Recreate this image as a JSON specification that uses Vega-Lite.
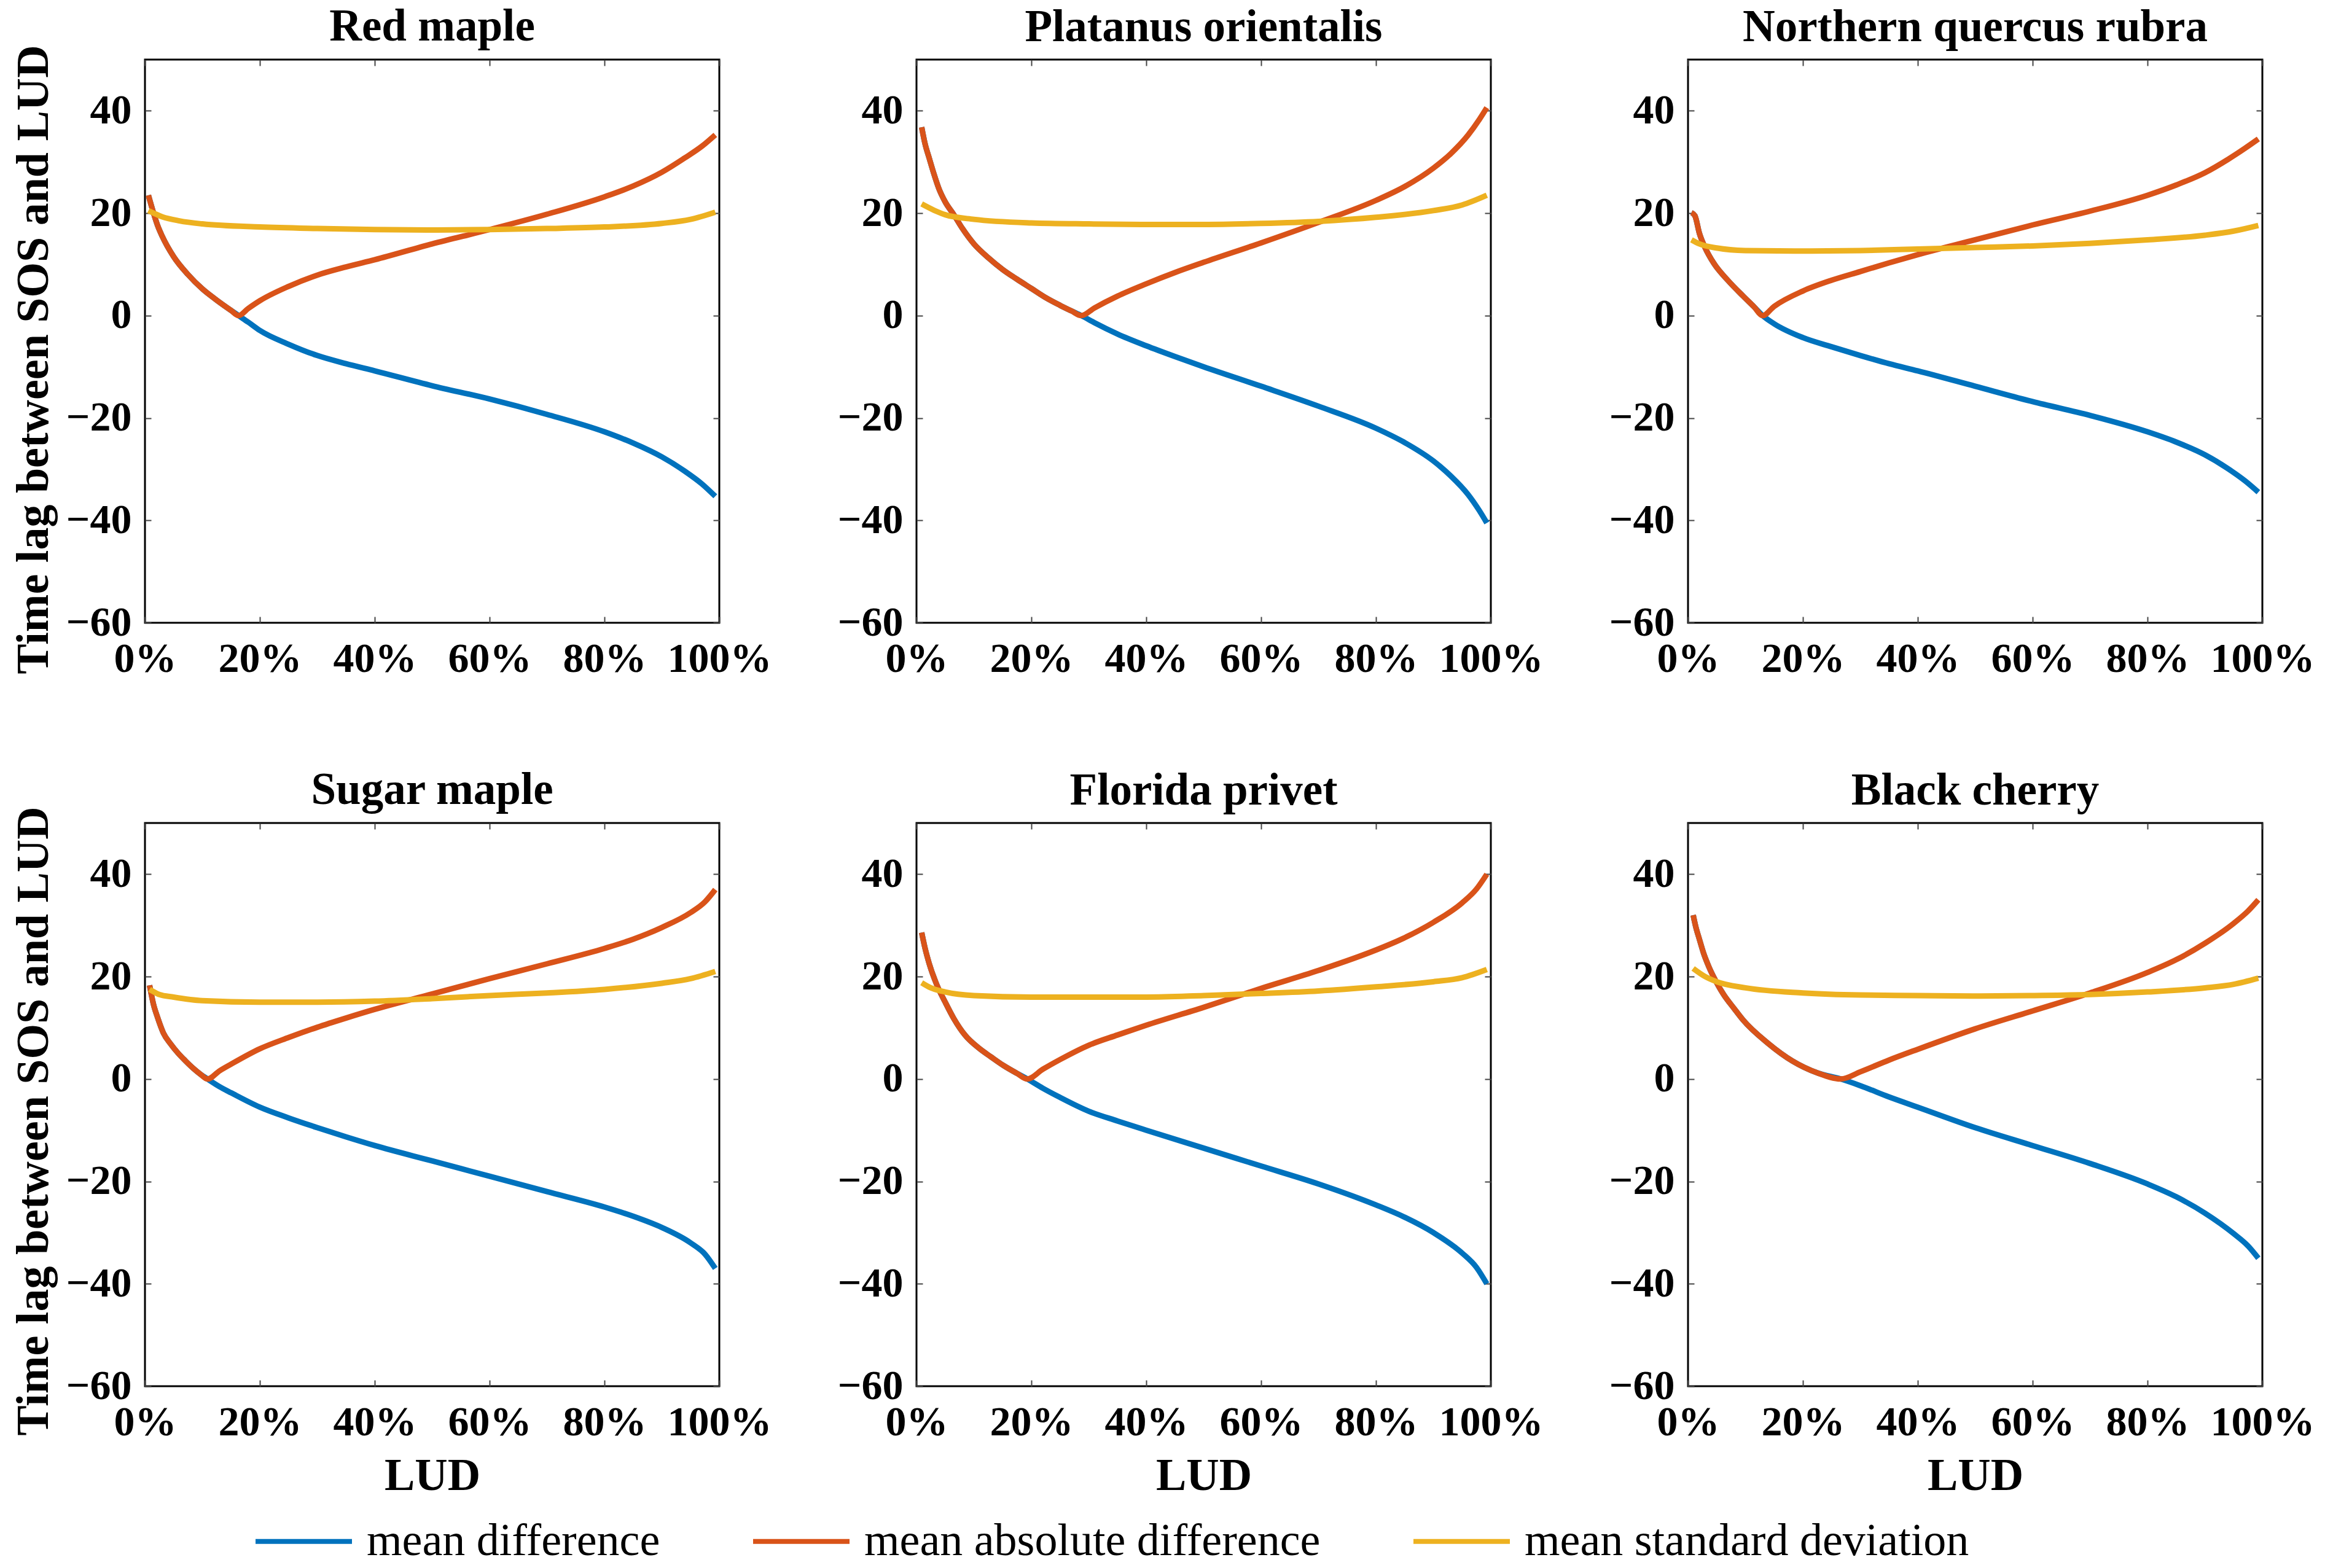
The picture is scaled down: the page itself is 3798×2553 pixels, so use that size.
{
  "$schema": "https://vega.github.io/schema/vega-lite/v6.json",
  "background": "white",
  "padding": {"left": 16, "top": 6, "right": 10, "bottom": 10},
  "datasets": {
    "trees": [
      {"s": "Red maple", "x": 0.6, "md": 23.5, "mad": 23.5, "msd": 20.5},
      {"s": "Red maple", "x": 1.5, "md": 20, "mad": 20},
      {"s": "Red maple", "x": 2.2, "md": 17.6, "mad": 17.6},
      {"s": "Red maple", "x": 3, "md": 15.5, "mad": 15.5, "msd": 19.3},
      {"s": "Red maple", "x": 5, "md": 11.5, "mad": 11.5},
      {"s": "Red maple", "x": 6, "msd": 18.5},
      {"s": "Red maple", "x": 7.5, "md": 8, "mad": 8},
      {"s": "Red maple", "x": 10, "md": 5.2, "mad": 5.2, "msd": 17.9},
      {"s": "Red maple", "x": 12.5, "md": 3, "mad": 3},
      {"s": "Red maple", "x": 15, "md": 1, "mad": 1},
      {"s": "Red maple", "x": 16.3, "md": 0, "mad": 0},
      {"s": "Red maple", "x": 18, "md": -1.3, "mad": 1.4},
      {"s": "Red maple", "x": 20, "md": -2.9, "mad": 2.9, "msd": 17.3},
      {"s": "Red maple", "x": 25, "md": -5.6, "mad": 5.7},
      {"s": "Red maple", "x": 30, "md": -7.8, "mad": 7.9, "msd": 17.0},
      {"s": "Red maple", "x": 35, "md": -9.4, "mad": 9.5},
      {"s": "Red maple", "x": 40, "md": -10.8, "mad": 10.9, "msd": 16.8},
      {"s": "Red maple", "x": 50, "md": -13.7, "mad": 14.0, "msd": 16.7},
      {"s": "Red maple", "x": 60, "md": -16.3, "mad": 16.8, "msd": 16.8},
      {"s": "Red maple", "x": 70, "md": -19.3, "mad": 19.8, "msd": 17.0},
      {"s": "Red maple", "x": 80, "md": -22.7, "mad": 23.2, "msd": 17.3},
      {"s": "Red maple", "x": 85, "md": -24.9, "mad": 25.3},
      {"s": "Red maple", "x": 90, "md": -27.6, "mad": 28.0, "msd": 18.0},
      {"s": "Red maple", "x": 94, "md": -30.4, "mad": 30.8},
      {"s": "Red maple", "x": 95, "msd": 18.8},
      {"s": "Red maple", "x": 97, "md": -32.9, "mad": 33.1},
      {"s": "Red maple", "x": 99.3, "md": -35.3, "mad": 35.3, "msd": 20.2},

      {"s": "Platanus orientalis", "x": 0.9, "md": 36.8, "mad": 36.8, "msd": 21.8},
      {"s": "Platanus orientalis", "x": 1.5, "md": 33.5, "mad": 33.5},
      {"s": "Platanus orientalis", "x": 2.2, "md": 30.8, "mad": 30.8},
      {"s": "Platanus orientalis", "x": 3, "md": 27.8, "mad": 27.8, "msd": 20.6},
      {"s": "Platanus orientalis", "x": 3.9, "md": 24.8, "mad": 24.8},
      {"s": "Platanus orientalis", "x": 5, "md": 22.2, "mad": 22.2, "msd": 19.7},
      {"s": "Platanus orientalis", "x": 6.5, "md": 19.7, "mad": 19.7},
      {"s": "Platanus orientalis", "x": 8, "md": 17.0, "mad": 17.0},
      {"s": "Platanus orientalis", "x": 10, "md": 14.0, "mad": 14.0, "msd": 18.8},
      {"s": "Platanus orientalis", "x": 12.5, "md": 11.3, "mad": 11.3},
      {"s": "Platanus orientalis", "x": 15, "md": 9.0, "mad": 9.0},
      {"s": "Platanus orientalis", "x": 17.5, "md": 7.1, "mad": 7.1},
      {"s": "Platanus orientalis", "x": 20, "md": 5.3, "mad": 5.3, "msd": 18.1},
      {"s": "Platanus orientalis", "x": 22.5, "md": 3.5, "mad": 3.5},
      {"s": "Platanus orientalis", "x": 25, "md": 2.0, "mad": 2.0},
      {"s": "Platanus orientalis", "x": 27, "md": 0.9, "mad": 0.9},
      {"s": "Platanus orientalis", "x": 28.7, "md": 0, "mad": 0},
      {"s": "Platanus orientalis", "x": 30, "msd": 17.9},
      {"s": "Platanus orientalis", "x": 31, "md": -1.4, "mad": 1.5},
      {"s": "Platanus orientalis", "x": 35, "md": -3.6, "mad": 3.8},
      {"s": "Platanus orientalis", "x": 40, "md": -5.9, "mad": 6.2, "msd": 17.8},
      {"s": "Platanus orientalis", "x": 45, "md": -8.0, "mad": 8.4},
      {"s": "Platanus orientalis", "x": 50, "md": -10.0, "mad": 10.4, "msd": 17.8},
      {"s": "Platanus orientalis", "x": 60, "md": -13.8, "mad": 14.2, "msd": 18.0},
      {"s": "Platanus orientalis", "x": 70, "md": -17.7, "mad": 18.2, "msd": 18.4},
      {"s": "Platanus orientalis", "x": 80, "md": -22.0, "mad": 22.5, "msd": 19.2},
      {"s": "Platanus orientalis", "x": 85, "md": -24.8, "mad": 25.2},
      {"s": "Platanus orientalis", "x": 90, "md": -28.4, "mad": 28.8, "msd": 20.5},
      {"s": "Platanus orientalis", "x": 93, "md": -31.3, "mad": 31.6},
      {"s": "Platanus orientalis", "x": 95, "msd": 21.6},
      {"s": "Platanus orientalis", "x": 96, "md": -34.9, "mad": 35.2},
      {"s": "Platanus orientalis", "x": 98, "md": -38.1, "mad": 38.3},
      {"s": "Platanus orientalis", "x": 99.3, "md": -40.5, "mad": 40.6, "msd": 23.5},

      {"s": "Northern quercus rubra", "x": 0.6, "md": 20.1, "mad": 20.1, "msd": 14.8},
      {"s": "Northern quercus rubra", "x": 1.2, "md": 19.5, "mad": 19.5},
      {"s": "Northern quercus rubra", "x": 2, "md": 16.0, "mad": 16.0, "msd": 14.0},
      {"s": "Northern quercus rubra", "x": 3, "md": 13.2, "mad": 13.2},
      {"s": "Northern quercus rubra", "x": 4.5, "md": 10.2, "mad": 10.2},
      {"s": "Northern quercus rubra", "x": 5, "msd": 13.2},
      {"s": "Northern quercus rubra", "x": 7, "md": 6.8, "mad": 6.8},
      {"s": "Northern quercus rubra", "x": 9.6, "md": 3.8, "mad": 3.8},
      {"s": "Northern quercus rubra", "x": 10, "msd": 12.7},
      {"s": "Northern quercus rubra", "x": 11.5, "md": 1.7, "mad": 1.7},
      {"s": "Northern quercus rubra", "x": 13, "md": 0, "mad": 0},
      {"s": "Northern quercus rubra", "x": 15, "md": -1.6, "mad": 1.8},
      {"s": "Northern quercus rubra", "x": 20, "md": -4.3, "mad": 4.8, "msd": 12.6},
      {"s": "Northern quercus rubra", "x": 25, "md": -6.1, "mad": 6.9},
      {"s": "Northern quercus rubra", "x": 30, "md": -7.8, "mad": 8.6, "msd": 12.7},
      {"s": "Northern quercus rubra", "x": 35, "md": -9.4, "mad": 10.3},
      {"s": "Northern quercus rubra", "x": 40, "md": -10.8, "mad": 11.9, "msd": 13.0},
      {"s": "Northern quercus rubra", "x": 50, "md": -13.8, "mad": 14.8, "msd": 13.3},
      {"s": "Northern quercus rubra", "x": 60, "md": -16.8, "mad": 17.7, "msd": 13.6},
      {"s": "Northern quercus rubra", "x": 70, "md": -19.5, "mad": 20.4, "msd": 14.1},
      {"s": "Northern quercus rubra", "x": 80, "md": -22.7, "mad": 23.5, "msd": 14.8},
      {"s": "Northern quercus rubra", "x": 85, "md": -24.7, "mad": 25.5},
      {"s": "Northern quercus rubra", "x": 90, "md": -27.2, "mad": 27.9, "msd": 15.7},
      {"s": "Northern quercus rubra", "x": 94, "md": -29.9, "mad": 30.5},
      {"s": "Northern quercus rubra", "x": 95, "msd": 16.5},
      {"s": "Northern quercus rubra", "x": 97, "md": -32.3, "mad": 32.7},
      {"s": "Northern quercus rubra", "x": 99.3, "md": -34.5, "mad": 34.5, "msd": 17.6},

      {"s": "Sugar maple", "x": 0.8, "md": 18.3, "mad": 18.3, "msd": 17.5},
      {"s": "Sugar maple", "x": 1.5, "md": 14.5, "mad": 14.5},
      {"s": "Sugar maple", "x": 2.2, "md": 12.0, "mad": 12.0},
      {"s": "Sugar maple", "x": 2.5, "msd": 16.5},
      {"s": "Sugar maple", "x": 3.2, "md": 9.0, "mad": 9.0},
      {"s": "Sugar maple", "x": 4.5, "md": 6.8, "mad": 6.8},
      {"s": "Sugar maple", "x": 5, "msd": 16.0},
      {"s": "Sugar maple", "x": 5.8, "md": 5.0, "mad": 5.0},
      {"s": "Sugar maple", "x": 7, "md": 3.6, "mad": 3.6},
      {"s": "Sugar maple", "x": 8.4, "md": 2.1, "mad": 2.1},
      {"s": "Sugar maple", "x": 9.7, "md": 0.9, "mad": 0.9},
      {"s": "Sugar maple", "x": 10, "msd": 15.3},
      {"s": "Sugar maple", "x": 10.9, "md": 0, "mad": 0},
      {"s": "Sugar maple", "x": 13, "md": -1.5, "mad": 1.6},
      {"s": "Sugar maple", "x": 15, "md": -2.7, "mad": 2.9},
      {"s": "Sugar maple", "x": 20, "md": -5.5, "mad": 5.9, "msd": 15.0},
      {"s": "Sugar maple", "x": 25, "md": -7.6, "mad": 8.1},
      {"s": "Sugar maple", "x": 30, "md": -9.5, "mad": 10.1, "msd": 15.0},
      {"s": "Sugar maple", "x": 35, "md": -11.3, "mad": 11.9},
      {"s": "Sugar maple", "x": 40, "md": -13.0, "mad": 13.6, "msd": 15.2},
      {"s": "Sugar maple", "x": 50, "md": -16.0, "mad": 16.6, "msd": 15.7},
      {"s": "Sugar maple", "x": 60, "md": -19.0, "mad": 19.6, "msd": 16.3},
      {"s": "Sugar maple", "x": 70, "md": -22.0, "mad": 22.5, "msd": 16.8},
      {"s": "Sugar maple", "x": 80, "md": -25.0, "mad": 25.5, "msd": 17.5},
      {"s": "Sugar maple", "x": 85, "md": -26.8, "mad": 27.3},
      {"s": "Sugar maple", "x": 90, "md": -29.0, "mad": 29.6, "msd": 18.7},
      {"s": "Sugar maple", "x": 95, "md": -32.0, "mad": 32.5, "msd": 19.6},
      {"s": "Sugar maple", "x": 97.5, "md": -34.2, "mad": 34.6},
      {"s": "Sugar maple", "x": 99.3, "md": -37.0, "mad": 37.0, "msd": 21.0},

      {"s": "Florida privet", "x": 0.9, "md": 28.6, "mad": 28.6, "msd": 18.8},
      {"s": "Florida privet", "x": 1.5, "md": 25.5, "mad": 25.5},
      {"s": "Florida privet", "x": 2.2, "md": 22.6, "mad": 22.6},
      {"s": "Florida privet", "x": 2.5, "msd": 17.8},
      {"s": "Florida privet", "x": 3.5, "md": 18.5, "mad": 18.5},
      {"s": "Florida privet", "x": 5, "md": 15.0, "mad": 15.0, "msd": 17.0},
      {"s": "Florida privet", "x": 6.5, "md": 11.8, "mad": 11.8},
      {"s": "Florida privet", "x": 8.5, "md": 8.5, "mad": 8.5},
      {"s": "Florida privet", "x": 10, "msd": 16.3},
      {"s": "Florida privet", "x": 10.9, "md": 6.0, "mad": 6.0},
      {"s": "Florida privet", "x": 13, "md": 4.3, "mad": 4.3},
      {"s": "Florida privet", "x": 15.2, "md": 2.6, "mad": 2.6},
      {"s": "Florida privet", "x": 17.5, "md": 1.1, "mad": 1.1},
      {"s": "Florida privet", "x": 19.3, "md": 0, "mad": 0},
      {"s": "Florida privet", "x": 20, "msd": 16.0},
      {"s": "Florida privet", "x": 22, "md": -1.8, "mad": 1.9},
      {"s": "Florida privet", "x": 25, "md": -3.6, "mad": 3.8},
      {"s": "Florida privet", "x": 30, "md": -6.3, "mad": 6.6, "msd": 16.0},
      {"s": "Florida privet", "x": 35, "md": -8.2, "mad": 8.6},
      {"s": "Florida privet", "x": 40, "md": -10.0, "mad": 10.5, "msd": 16.0},
      {"s": "Florida privet", "x": 50, "md": -13.5, "mad": 14.0, "msd": 16.3},
      {"s": "Florida privet", "x": 60, "md": -17.0, "mad": 17.7, "msd": 16.7},
      {"s": "Florida privet", "x": 70, "md": -20.5, "mad": 21.2, "msd": 17.2},
      {"s": "Florida privet", "x": 80, "md": -24.6, "mad": 25.2, "msd": 18.0},
      {"s": "Florida privet", "x": 85, "md": -27.0, "mad": 27.6},
      {"s": "Florida privet", "x": 90, "md": -30.0, "mad": 30.6, "msd": 19.0},
      {"s": "Florida privet", "x": 95, "md": -34.0, "mad": 34.4, "msd": 19.8},
      {"s": "Florida privet", "x": 97.5, "md": -36.8, "mad": 37.1},
      {"s": "Florida privet", "x": 99.3, "md": -40.0, "mad": 40.0, "msd": 21.4},

      {"s": "Black cherry", "x": 0.9, "md": 32.0, "mad": 32.0, "msd": 21.6},
      {"s": "Black cherry", "x": 1.4, "md": 29.5, "mad": 29.5},
      {"s": "Black cherry", "x": 1.9, "md": 27.6, "mad": 27.6},
      {"s": "Black cherry", "x": 2.7, "md": 24.6, "mad": 24.6},
      {"s": "Black cherry", "x": 3, "msd": 20.0},
      {"s": "Black cherry", "x": 3.6, "md": 22.0, "mad": 22.0},
      {"s": "Black cherry", "x": 4.8, "md": 19.2, "mad": 19.2},
      {"s": "Black cherry", "x": 5, "msd": 19.0},
      {"s": "Black cherry", "x": 6.2, "md": 16.5, "mad": 16.5},
      {"s": "Black cherry", "x": 8, "md": 13.8, "mad": 13.8},
      {"s": "Black cherry", "x": 9.6, "md": 11.5, "mad": 11.5},
      {"s": "Black cherry", "x": 10, "msd": 17.8},
      {"s": "Black cherry", "x": 13.9, "md": 7.0, "mad": 7.0},
      {"s": "Black cherry", "x": 18.2, "md": 3.5, "mad": 3.5},
      {"s": "Black cherry", "x": 20, "msd": 16.8},
      {"s": "Black cherry", "x": 22.5, "md": 1.2, "mad": 1.2},
      {"s": "Black cherry", "x": 26.6, "md": 0, "mad": 0},
      {"s": "Black cherry", "x": 30, "md": -1.3, "mad": 1.4, "msd": 16.4},
      {"s": "Black cherry", "x": 35, "md": -3.5, "mad": 3.7},
      {"s": "Black cherry", "x": 40, "md": -5.5, "mad": 5.8, "msd": 16.3},
      {"s": "Black cherry", "x": 50, "md": -9.5, "mad": 9.8, "msd": 16.2},
      {"s": "Black cherry", "x": 60, "md": -13.0, "mad": 13.3, "msd": 16.3},
      {"s": "Black cherry", "x": 70, "md": -16.5, "mad": 16.8, "msd": 16.5},
      {"s": "Black cherry", "x": 80, "md": -20.5, "mad": 20.8, "msd": 17.0},
      {"s": "Black cherry", "x": 85, "md": -23.0, "mad": 23.3},
      {"s": "Black cherry", "x": 90, "md": -26.2, "mad": 26.5, "msd": 17.8},
      {"s": "Black cherry", "x": 95, "md": -30.2, "mad": 30.4, "msd": 18.5},
      {"s": "Black cherry", "x": 97.5, "md": -32.6, "mad": 32.8},
      {"s": "Black cherry", "x": 99.3, "md": -35.0, "mad": 35.0, "msd": 19.7}
    ]
  },
  "data": {"name": "trees"},
  "columns": 3,
  "spacing": {"row": 326, "column": 321},
  "bounds": "flush",
  "concat": [
    {
      "title": {"text": "Red maple", "dy": 22}, "width": 935, "height": 917,
      "transform": [{"filter": "datum.s === 'Red maple'"}, {"fold": ["md", "mad", "msd"], "as": ["series", "value"]}, {"filter": "isValid(datum.value)"}],
      "layer": [
        {"mark": {"type": "line", "interpolate": "monotone", "strokeWidth": 9},
         "encoding": {
           "x": {"field": "x", "type": "quantitative", "scale": {"domain": [0, 100], "nice": false}, "axis": {"values": [0, 20, 40, 60, 80, 100], "labelExpr": "datum.value + '%'", "title": null}},
           "y": {"field": "value", "type": "quantitative", "scale": {"domain": [-60, 50], "nice": false}, "axis": {"values": [-60, -40, -20, 0, 20, 40], "title": "Time lag between SOS and LUD", "titleY": 488}},
           "color": {"field": "series", "type": "nominal", "scale": {"domain": ["md", "mad", "msd"], "range": ["#0072BD", "#D95319", "#EDB120"]}, "legend": {"orient": "none", "legendX": 176, "legendY": 2330, "direction": "horizontal", "columns": 3, "title": null, "symbolType": "stroke", "symbolSize": 24649, "symbolStrokeWidth": 8, "labelFont": "Liberation Serif", "labelFontSize": 74, "labelColor": "black", "labelLimit": 0, "labelOffset": 20, "columnPadding": 135, "labelExpr": "{'md': 'mean difference', 'mad': 'mean absolute difference', 'msd': 'mean standard deviation'}[datum.label]"}}
         }},
        {"mark": {"type": "point", "opacity": 0},
         "encoding": {
           "x": {"field": "x", "type": "quantitative", "axis": {"orient": "top", "values": [0, 20, 40, 60, 80, 100], "labels": false, "title": null}},
           "y": {"field": "value", "type": "quantitative", "axis": {"orient": "right", "values": [-60, -40, -20, 0, 20, 40], "labels": false, "title": null}}
         }}
      ],
      "resolve": {"axis": {"x": "independent", "y": "independent"}}
    },
    {
      "title": "Platanus orientalis", "width": 935, "height": 917,
      "transform": [{"filter": "datum.s === 'Platanus orientalis'"}, {"fold": ["md", "mad", "msd"], "as": ["series", "value"]}, {"filter": "isValid(datum.value)"}],
      "layer": [
        {"mark": {"type": "line", "interpolate": "monotone", "strokeWidth": 9},
         "encoding": {
           "x": {"field": "x", "type": "quantitative", "scale": {"domain": [0, 100], "nice": false}, "axis": {"values": [0, 20, 40, 60, 80, 100], "labelExpr": "datum.value + '%'", "title": null}},
           "y": {"field": "value", "type": "quantitative", "scale": {"domain": [-60, 50], "nice": false}, "axis": {"values": [-60, -40, -20, 0, 20, 40], "title": null}},
           "color": {"field": "series", "type": "nominal", "scale": {"domain": ["md", "mad", "msd"], "range": ["#0072BD", "#D95319", "#EDB120"]}, "legend": {"orient": "none", "legendX": 176, "legendY": 2330, "direction": "horizontal", "columns": 3, "title": null, "symbolType": "stroke", "symbolSize": 24649, "symbolStrokeWidth": 8, "labelFont": "Liberation Serif", "labelFontSize": 74, "labelColor": "black", "labelLimit": 0, "labelOffset": 20, "columnPadding": 135, "labelExpr": "{'md': 'mean difference', 'mad': 'mean absolute difference', 'msd': 'mean standard deviation'}[datum.label]"}}
         }},
        {"mark": {"type": "point", "opacity": 0},
         "encoding": {
           "x": {"field": "x", "type": "quantitative", "axis": {"orient": "top", "values": [0, 20, 40, 60, 80, 100], "labels": false, "title": null}},
           "y": {"field": "value", "type": "quantitative", "axis": {"orient": "right", "values": [-60, -40, -20, 0, 20, 40], "labels": false, "title": null}}
         }}
      ],
      "resolve": {"axis": {"x": "independent", "y": "independent"}}
    },
    {
      "title": "Northern quercus rubra", "width": 935, "height": 917,
      "transform": [{"filter": "datum.s === 'Northern quercus rubra'"}, {"fold": ["md", "mad", "msd"], "as": ["series", "value"]}, {"filter": "isValid(datum.value)"}],
      "layer": [
        {"mark": {"type": "line", "interpolate": "monotone", "strokeWidth": 9},
         "encoding": {
           "x": {"field": "x", "type": "quantitative", "scale": {"domain": [0, 100], "nice": false}, "axis": {"values": [0, 20, 40, 60, 80, 100], "labelExpr": "datum.value + '%'", "title": null}},
           "y": {"field": "value", "type": "quantitative", "scale": {"domain": [-60, 50], "nice": false}, "axis": {"values": [-60, -40, -20, 0, 20, 40], "title": null}},
           "color": {"field": "series", "type": "nominal", "scale": {"domain": ["md", "mad", "msd"], "range": ["#0072BD", "#D95319", "#EDB120"]}, "legend": {"orient": "none", "legendX": 176, "legendY": 2330, "direction": "horizontal", "columns": 3, "title": null, "symbolType": "stroke", "symbolSize": 24649, "symbolStrokeWidth": 8, "labelFont": "Liberation Serif", "labelFontSize": 74, "labelColor": "black", "labelLimit": 0, "labelOffset": 20, "columnPadding": 135, "labelExpr": "{'md': 'mean difference', 'mad': 'mean absolute difference', 'msd': 'mean standard deviation'}[datum.label]"}}
         }},
        {"mark": {"type": "point", "opacity": 0},
         "encoding": {
           "x": {"field": "x", "type": "quantitative", "axis": {"orient": "top", "values": [0, 20, 40, 60, 80, 100], "labels": false, "title": null}},
           "y": {"field": "value", "type": "quantitative", "axis": {"orient": "right", "values": [-60, -40, -20, 0, 20, 40], "labels": false, "title": null}}
         }}
      ],
      "resolve": {"axis": {"x": "independent", "y": "independent"}}
    },
    {
      "title": {"text": "Sugar maple", "dy": 25}, "width": 935, "height": 917,
      "transform": [{"filter": "datum.s === 'Sugar maple'"}, {"fold": ["md", "mad", "msd"], "as": ["series", "value"]}, {"filter": "isValid(datum.value)"}],
      "layer": [
        {"mark": {"type": "line", "interpolate": "monotone", "strokeWidth": 9},
         "encoding": {
           "x": {"field": "x", "type": "quantitative", "scale": {"domain": [0, 100], "nice": false}, "axis": {"values": [0, 20, 40, 60, 80, 100], "labelExpr": "datum.value + '%'", "title": "LUD"}},
           "y": {"field": "value", "type": "quantitative", "scale": {"domain": [-60, 50], "nice": false}, "axis": {"values": [-60, -40, -20, 0, 20, 40], "title": "Time lag between SOS and LUD", "titleY": 485}},
           "color": {"field": "series", "type": "nominal", "scale": {"domain": ["md", "mad", "msd"], "range": ["#0072BD", "#D95319", "#EDB120"]}, "legend": {"orient": "none", "legendX": 176, "legendY": 2330, "direction": "horizontal", "columns": 3, "title": null, "symbolType": "stroke", "symbolSize": 24649, "symbolStrokeWidth": 8, "labelFont": "Liberation Serif", "labelFontSize": 74, "labelColor": "black", "labelLimit": 0, "labelOffset": 20, "columnPadding": 135, "labelExpr": "{'md': 'mean difference', 'mad': 'mean absolute difference', 'msd': 'mean standard deviation'}[datum.label]"}}
         }},
        {"mark": {"type": "point", "opacity": 0},
         "encoding": {
           "x": {"field": "x", "type": "quantitative", "axis": {"orient": "top", "values": [0, 20, 40, 60, 80, 100], "labels": false, "title": null}},
           "y": {"field": "value", "type": "quantitative", "axis": {"orient": "right", "values": [-60, -40, -20, 0, 20, 40], "labels": false, "title": null}}
         }}
      ],
      "resolve": {"axis": {"x": "independent", "y": "independent"}}
    },
    {
      "title": "Florida privet", "width": 935, "height": 917,
      "transform": [{"filter": "datum.s === 'Florida privet'"}, {"fold": ["md", "mad", "msd"], "as": ["series", "value"]}, {"filter": "isValid(datum.value)"}],
      "layer": [
        {"mark": {"type": "line", "interpolate": "monotone", "strokeWidth": 9},
         "encoding": {
           "x": {"field": "x", "type": "quantitative", "scale": {"domain": [0, 100], "nice": false}, "axis": {"values": [0, 20, 40, 60, 80, 100], "labelExpr": "datum.value + '%'", "title": "LUD"}},
           "y": {"field": "value", "type": "quantitative", "scale": {"domain": [-60, 50], "nice": false}, "axis": {"values": [-60, -40, -20, 0, 20, 40], "title": null}},
           "color": {"field": "series", "type": "nominal", "scale": {"domain": ["md", "mad", "msd"], "range": ["#0072BD", "#D95319", "#EDB120"]}, "legend": {"orient": "none", "legendX": 176, "legendY": 2330, "direction": "horizontal", "columns": 3, "title": null, "symbolType": "stroke", "symbolSize": 24649, "symbolStrokeWidth": 8, "labelFont": "Liberation Serif", "labelFontSize": 74, "labelColor": "black", "labelLimit": 0, "labelOffset": 20, "columnPadding": 135, "labelExpr": "{'md': 'mean difference', 'mad': 'mean absolute difference', 'msd': 'mean standard deviation'}[datum.label]"}}
         }},
        {"mark": {"type": "point", "opacity": 0},
         "encoding": {
           "x": {"field": "x", "type": "quantitative", "axis": {"orient": "top", "values": [0, 20, 40, 60, 80, 100], "labels": false, "title": null}},
           "y": {"field": "value", "type": "quantitative", "axis": {"orient": "right", "values": [-60, -40, -20, 0, 20, 40], "labels": false, "title": null}}
         }}
      ],
      "resolve": {"axis": {"x": "independent", "y": "independent"}}
    },
    {
      "title": "Black cherry", "width": 935, "height": 917,
      "transform": [{"filter": "datum.s === 'Black cherry'"}, {"fold": ["md", "mad", "msd"], "as": ["series", "value"]}, {"filter": "isValid(datum.value)"}],
      "layer": [
        {"mark": {"type": "line", "interpolate": "monotone", "strokeWidth": 9},
         "encoding": {
           "x": {"field": "x", "type": "quantitative", "scale": {"domain": [0, 100], "nice": false}, "axis": {"values": [0, 20, 40, 60, 80, 100], "labelExpr": "datum.value + '%'", "title": "LUD"}},
           "y": {"field": "value", "type": "quantitative", "scale": {"domain": [-60, 50], "nice": false}, "axis": {"values": [-60, -40, -20, 0, 20, 40], "title": null}},
           "color": {"field": "series", "type": "nominal", "scale": {"domain": ["md", "mad", "msd"], "range": ["#0072BD", "#D95319", "#EDB120"]}, "legend": {"orient": "none", "legendX": 176, "legendY": 2330, "direction": "horizontal", "columns": 3, "title": null, "symbolType": "stroke", "symbolSize": 24649, "symbolStrokeWidth": 8, "labelFont": "Liberation Serif", "labelFontSize": 74, "labelColor": "black", "labelLimit": 0, "labelOffset": 20, "columnPadding": 135, "labelExpr": "{'md': 'mean difference', 'mad': 'mean absolute difference', 'msd': 'mean standard deviation'}[datum.label]"}}
         }},
        {"mark": {"type": "point", "opacity": 0},
         "encoding": {
           "x": {"field": "x", "type": "quantitative", "axis": {"orient": "top", "values": [0, 20, 40, 60, 80, 100], "labels": false, "title": null}},
           "y": {"field": "value", "type": "quantitative", "axis": {"orient": "right", "values": [-60, -40, -20, 0, 20, 40], "labels": false, "title": null}}
         }}
      ],
      "resolve": {"axis": {"x": "independent", "y": "independent"}}
    }
  ],
  "config": {
    "font": "Liberation Serif",
    "view": {"stroke": "black", "strokeWidth": 3},
    "axis": {"labelFont": "Liberation Serif", "labelFontSize": 68, "labelFontWeight": "bold", "labelColor": "black", "titleFont": "Liberation Serif", "titleFontSize": 74, "titleFontWeight": "bold", "titleColor": "black", "domain": false, "grid": false, "tickSize": -10, "tickWidth": 2, "tickColor": "#444444", "labelFlush": false, "labelOverlap": false},
    "axisX": {"labelPadding": 35, "titlePadding": 17},
    "axisY": {"labelPadding": 32, "titlePadding": 14},
    "title": {"font": "Liberation Serif", "fontSize": 73, "fontWeight": "bold", "color": "black", "baseline": "alphabetic", "offset": 14, "frame": "group"}
  }
}
